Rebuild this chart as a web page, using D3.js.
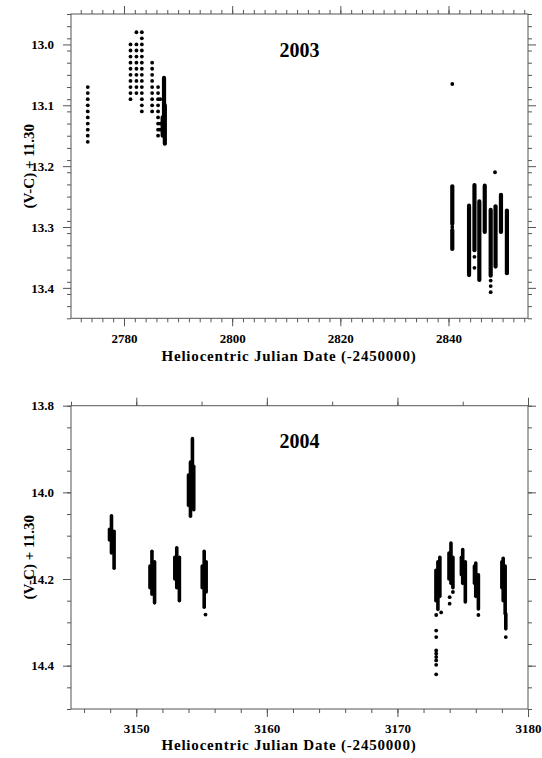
<!DOCTYPE html>
<html><head><meta charset="utf-8">
<script src="https://cdn.jsdelivr.net/npm/d3@7/dist/d3.min.js"></script>
<style>
html,body{margin:0;padding:0;background:#fff;}
svg{display:block;}
text{font-family:"Liberation Serif","Times New Roman",serif;font-weight:bold;fill:#000;}
</style></head>
<body>
<svg id="chart" width="542" height="758"></svg>
<script>
// ---------- data ----------
const yearLabels = ["2003", "2004"];
const xTitle = "Heliocentric Julian Date (-2450000)";
const yTitle = "(V-C) + 11.30";

const xDomain2003 = [2770.2, 2854.7];
const yDomain2003 = [12.95, 13.45];
const xTicks2003 = [2780, 2800, 2820, 2840];
const yTicks2003 = [13.0, 13.1, 13.2, 13.3, 13.4];

const xDomain2004 = [3145, 3180];
const yDomain2004 = [13.8, 14.5];
const xTicks2004 = [3150, 3160, 3170, 3180];
const yTicks2004 = [13.8, 14.0, 14.2, 14.4];

// single observations: [HJD, list of magnitudes]
const obs2003 = [
  [2773.3, [13.07,13.08,13.09,13.10,13.11,13.12,13.13,13.14,13.15,13.16]],
  [2781.2, [13.00,13.01,13.02,13.03,13.04,13.05,13.06,13.07,13.08,13.09]],
  [2782.3, [12.98,13.00,13.01,13.02,13.03,13.04,13.05,13.06,13.07,13.08]],
  [2783.3, [12.98,12.99,13.00,13.01,13.02,13.03,13.04,13.05,13.06,13.07,13.08,13.09,13.10,13.11]],
  [2785.2, [13.03,13.04,13.05,13.06,13.07,13.08,13.09,13.10,13.11]],
  [2786.3, [13.07,13.08,13.09,13.10,13.11,13.12,13.13,13.14,13.15]],
  [2786.7, [13.09,13.13,13.14]],
  [2840.7, [13.065,13.30]],
  [2844.8, [13.349,13.367]],
  [2847.8, [13.388,13.397,13.407]],
  [2848.6, [13.21]]
];
// densely sampled nights: [HJD, brightest mag, faintest mag]
const runs2003 = [
  [2787.4, 13.055, 13.15],
  [2787.55, 13.10, 13.163],
  [2787.15, 13.12, 13.15],
  [2840.7, 13.233, 13.295],
  [2840.7, 13.305, 13.336],
  [2843.8, 13.265, 13.379],
  [2844.8, 13.231, 13.338],
  [2845.7, 13.258, 13.387],
  [2846.7, 13.232, 13.308],
  [2847.8, 13.272, 13.38],
  [2848.7, 13.266, 13.365],
  [2849.7, 13.247, 13.308],
  [2850.8, 13.273, 13.376]
];

const obs2004 = [
  [3155.3, [14.282]],
  [3173.35, [14.277]],
  [3172.97, [14.283,14.319,14.334,14.365,14.372,14.38,14.388,14.398,14.42]],
  [3174.0, [14.242,14.257]],
  [3174.25, [14.23]],
  [3176.2, [14.283]],
  [3178.3, [14.334]]
];
const runs2004 = [
  [3148.1, 14.054, 14.14],
  [3148.3, 14.09, 14.175],
  [3147.95, 14.085, 14.11],
  [3151.2, 14.136, 14.235],
  [3151.4, 14.16, 14.255],
  [3151.05, 14.17, 14.22],
  [3153.1, 14.128, 14.22],
  [3153.3, 14.15, 14.25],
  [3152.95, 14.15, 14.20],
  [3154.3, 13.876, 14.0],
  [3154.15, 13.93, 14.055],
  [3154.4, 13.94, 14.04],
  [3154.0, 13.96, 14.03],
  [3155.2, 14.136, 14.265],
  [3155.35, 14.16, 14.23],
  [3155.05, 14.17, 14.22],
  [3173.1, 14.16, 14.27],
  [3173.25, 14.15, 14.24],
  [3172.95, 14.18, 14.25],
  [3174.1, 14.117, 14.21],
  [3174.25, 14.15, 14.22],
  [3173.95, 14.14, 14.20],
  [3175.0, 14.132, 14.21],
  [3175.2, 14.16, 14.253],
  [3174.9, 14.15, 14.19],
  [3176.0, 14.163, 14.24],
  [3176.2, 14.19, 14.269],
  [3175.9, 14.17, 14.21],
  [3178.1, 14.152, 14.25],
  [3178.0, 14.16, 14.22],
  [3178.25, 14.17, 14.28],
  [3178.3, 14.28, 14.315]
];

// ---------- drawing ----------
const svg = d3.select("#chart");
const L = 71, R = 528;
const axisColor = "#555";

function panel(cfg) {
  const x = d3.scaleLinear().domain(cfg.xDomain).range([L, R]);
  const y = d3.scaleLinear().domain(cfg.yDomain).range([cfg.top, cfg.bottom]);
  const g = svg.append("g");

  function styleAxis(a) {
    a.select(".domain").remove();
    a.selectAll("line").attr("stroke", axisColor);
    a.selectAll("text").style("font-size", "13px").style("font-family", '"Liberation Serif", serif').style("font-weight", "bold").attr("fill", "#000");
  }
  const xMinor = d3.range(Math.ceil(cfg.xDomain[0] / cfg.xMinor) * cfg.xMinor, cfg.xDomain[1] + 1e-6, cfg.xMinor);
  const xMinorTop = d3.range(Math.ceil(cfg.xDomain[0] / cfg.xMinorTop) * cfg.xMinorTop, cfg.xDomain[1] + 1e-6, cfg.xMinorTop);
  const yMinor = d3.range(cfg.yDomain[0], cfg.yDomain[1] + 1e-6, cfg.yMinor).map(v => +v.toFixed(3));
  const fmtY = d3.format(".1f");

  // bottom
  g.append("g").attr("transform", `translate(0,${cfg.bottom})`)
    .call(d3.axisBottom(x).tickValues(xMinor).tickSize(4).tickSizeOuter(0).tickFormat("")).call(styleAxis);
  g.append("g").attr("transform", `translate(0,${cfg.bottom})`)
    .call(d3.axisBottom(x).tickValues(cfg.xTicks).tickSize(8).tickSizeOuter(0).tickPadding(cfg.xPad).tickFormat(d3.format("d"))).call(styleAxis);
  // top
  g.append("g").attr("transform", `translate(0,${cfg.top})`)
    .call(d3.axisTop(x).tickValues(xMinorTop).tickSize(4).tickSizeOuter(0).tickFormat("")).call(styleAxis);
  g.append("g").attr("transform", `translate(0,${cfg.top})`)
    .call(d3.axisTop(x).tickValues(cfg.xTicks).tickSize(8).tickSizeOuter(0).tickFormat("")).call(styleAxis);
  // left
  g.append("g").attr("transform", `translate(${L},0)`)
    .call(d3.axisLeft(y).tickValues(yMinor).tickSize(4).tickSizeOuter(0).tickFormat("")).call(styleAxis);
  g.append("g").attr("transform", `translate(${L},0)`)
    .call(d3.axisLeft(y).tickValues(cfg.yTicks).tickSize(8).tickSizeOuter(0).tickPadding(9).tickFormat(fmtY)).call(styleAxis);
  // right
  g.append("g").attr("transform", `translate(${R},0)`)
    .call(d3.axisRight(y).tickValues(yMinor).tickSize(4).tickSizeOuter(0).tickFormat("")).call(styleAxis);
  g.append("g").attr("transform", `translate(${R},0)`)
    .call(d3.axisRight(y).tickValues(cfg.yTicks).tickSize(8).tickSizeOuter(0).tickFormat("")).call(styleAxis);

  // frame
  g.append("rect").attr("x", L).attr("y", cfg.top).attr("width", R - L).attr("height", cfg.bottom - cfg.top)
    .attr("fill", "none").attr("stroke", axisColor).attr("stroke-width", 1);

  // dense runs
  g.append("g").selectAll("line").data(cfg.runs).join("line")
    .attr("x1", d => x(d[0])).attr("x2", d => x(d[0]))
    .attr("y1", d => y(d[1])).attr("y2", d => y(d[2]))
    .attr("stroke", "#000").attr("stroke-width", cfg.runWidth).attr("stroke-linecap", "round");

  // individual points
  const pts = cfg.obs.flatMap(([t, mags]) => mags.map(m => [t, m]));
  g.append("g").selectAll("circle").data(pts).join("circle")
    .attr("cx", d => x(d[0])).attr("cy", d => y(d[1])).attr("r", 1.9).attr("fill", "#000");

  // labels
  g.append("text").attr("x", (L + R) / 2).attr("y", cfg.titleY).attr("text-anchor", "middle")
    .style("font-size", "20px").text(cfg.year);
  g.append("text").attr("x", 289).attr("y", cfg.xTitleY).attr("text-anchor", "middle")
    .style("font-size", "15px").style("letter-spacing", "0.8px").text(xTitle);
  g.append("text").attr("transform", `translate(34,${(cfg.top + cfg.bottom) / 2}) rotate(-90)`)
    .attr("text-anchor", "middle").style("font-size", "15px").text(yTitle);
}

panel({year: yearLabels[0], xDomain: xDomain2003, yDomain: yDomain2003, xTicks: xTicks2003, yTicks: yTicks2003,
  xMinor: 2, xMinorTop: 2, yMinor: 0.02, top: 14, bottom: 318.3, xPad: 7, titleY: 57, xTitleY: 361,
  obs: obs2003, runs: runs2003, runWidth: 4.2});
panel({year: yearLabels[1], xDomain: xDomain2004, yDomain: yDomain2004, xTicks: xTicks2004, yTicks: yTicks2004,
  xMinor: 2, xMinorTop: 5, yMinor: 0.05, top: 405.7, bottom: 709, xPad: 7, titleY: 448, xTitleY: 750,
  obs: obs2004, runs: runs2004, runWidth: 3.6});
</script>
</body></html>
